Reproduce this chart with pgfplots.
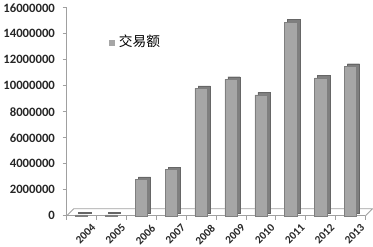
\documentclass[border=0pt]{standalone}
\usepackage{fontspec}
\setmainfont{Carlito}
\newfontfamily\cjk{Noto Sans CJK SC}
\usepackage{pgfplots}
\pgfplotsset{compat=1.18}
\definecolor{barfront}{HTML}{A6A6A6}
\definecolor{barside}{HTML}{7F7F7F}
\definecolor{axisgray}{HTML}{A0A0A0}
\begin{document}
\begin{tikzpicture}
\begin{axis}[
  scale only axis,
  width=293bp, height=204bp,
  xmin=-0.5, xmax=9.5,
  ymin=0, ymax=16000000,
  scaled y ticks=false,
  ytick={0,2000000,4000000,6000000,8000000,10000000,12000000,14000000,16000000},
  yticklabels={0,2000000,4000000,6000000,8000000,10000000,12000000,14000000,16000000},
  xtick={0,...,9},
  xticklabels={2004,2005,2006,2007,2008,2009,2010,2011,2012,2013},
  minor xtick={-0.5,0.5,...,9.5},
  axis x line*=bottom, axis y line*=left,
  axis line style={axisgray, line width=1bp},
  x axis line style={-}, y axis line style={-},
  major x tick style={draw=none},
  minor x tick style={axisgray, line width=0.8bp},
  minor tick length=4bp,
  ytick style={axisgray, line width=0.8bp},
  major tick length=4bp,
  tick align=outside,
  /pgf/number format/assume math mode=true,
  yticklabel style={font=\bfseries\fontsize{12.5}{13}\selectfont, text=black!85, xshift=-4bp},
  xticklabel style={font=\bfseries\fontsize{11}{11}\selectfont, text=black!85, rotate=45, anchor=north east, xshift=5bp, yshift=-8bp, inner sep=1bp},
  ybar, bar width=12bp,
  clip=false,
]
\draw[axisgray, line width=0.8bp] (axis cs:-0.5,0) -- ([xshift=7bp,yshift=7bp]axis cs:-0.5,0) -- ([xshift=7bp,yshift=7bp]axis cs:9.5,0) -- (axis cs:9.5,0);
\addplot[fill=barside, draw=barside!80!black, bar shift=3bp, yshift=2.5bp, forget plot] coordinates {(0,80000) (1,80000) (2,2800000) (3,3550000) (4,9800000) (5,10500000) (6,9300000) (7,14900000) (8,10600000) (9,11500000)};
\addplot[fill=barfront, draw=barside, bar shift=0bp] coordinates {(0,80000) (1,80000) (2,2800000) (3,3550000) (4,9800000) (5,10500000) (6,9300000) (7,14900000) (8,10600000) (9,11500000)};
\node[anchor=west, inner sep=0pt] at (rel axis cs:0.14,0.84) {\textcolor{barfront}{\rule{6.5bp}{6.5bp}}\hspace{3.5bp}{\cjk\fontsize{13.5}{15}\selectfont 交易额}};
\end{axis}
\end{tikzpicture}
\end{document}
